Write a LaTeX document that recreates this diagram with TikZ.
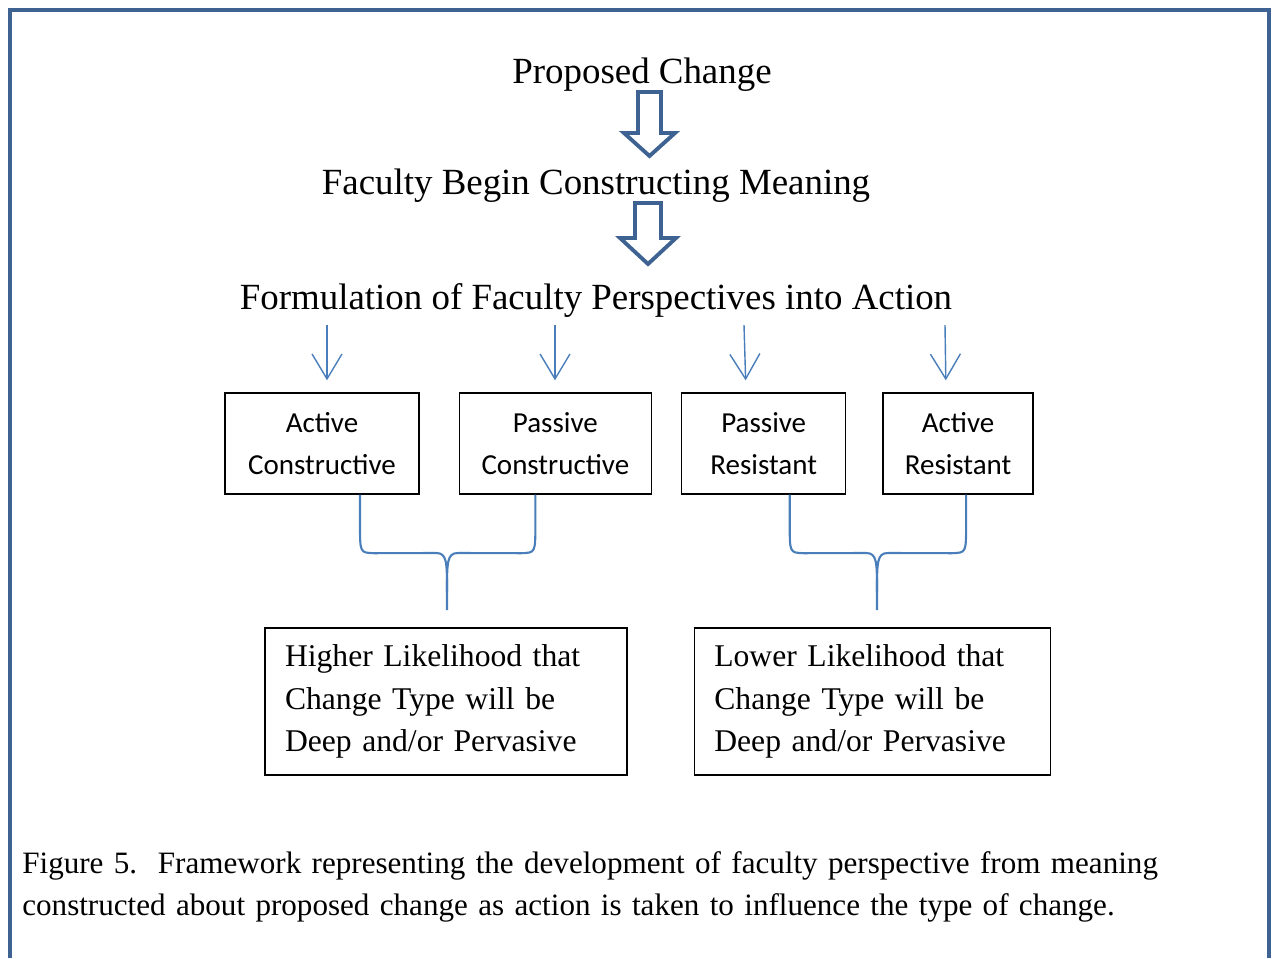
\documentclass[tikz,border=0pt]{standalone}
\usepackage{fontspec}
\setmainfont{Liberation Serif}
\newfontfamily\calibri{Carlito}
\usetikzlibrary{arrows.meta,positioning}

\definecolor{frameblue}{RGB}{62,98,146}
\definecolor{lineblue}{RGB}{74,126,187}

\begin{document}
\begin{tikzpicture}[x=0.02cm,y=-0.02cm,
                    heading/.style={font=\fontsize{21}{25}\selectfont, inner sep=0pt},
                    thin arrow/.style={->,>={Straight Barb[length=5mm,width=6mm]}, lineblue, line width=0.8pt},
                    brace/.style={lineblue, line width=1.2pt},
                    block/.style={draw=frameblue, line width=2.2pt, fill=white, line join=miter}]

  \useasboundingbox (0,0) rectangle (1274,958);
  \draw[frameblue, line width=2.4pt] (10,958) -- (10,10) -- (1269,10) -- (1269,958);

  \tikzstyle{choice} = [draw, line width=0.8pt, minimum height=2.02cm, align=center,
                        font=\calibri\fontsize{16.5}{23.8}\selectfont]
  \tikzstyle{outcome} = [draw, line width=0.8pt, minimum height=2.94cm, inner xsep=0.4cm,
                         align=left, font=\fontsize{18}{24}\selectfont]

  \node[heading] (P) at (642,75)  {Proposed Change};
  \node[heading] (M) at (596,186) {Faculty Begin Constructing Meaning};
  \node[heading] (F) at (596,300) {Formulation of Faculty Perspectives into Action};

  % block arrows between the headings
  \draw[block] (638,92) -- (661,92) -- (661,133) -- (675,133) -- (649.5,156)
               -- (624,133) -- (638,133) -- cycle;
  \draw[block] (635,203) -- (661,203) -- (661,238) -- (676,238) -- (648,264)
               -- (620,238) -- (635,238) -- cycle;

  \node[choice, minimum width=3.88cm] (AC) at (322,443.5) {Active\\Constructive};
  \node[choice, minimum width=3.84cm] (PC) [right=0.78cm of AC] {Passive\\Constructive};
  \node[choice, minimum width=3.28cm] (PR) [right=0.58cm of PC] {Passive\\Resistant};
  \node[choice, minimum width=3.0cm]  (AR) [right=0.72cm of PR] {Active\\Resistant};

  \coordinate (t1) at (327,325);
  \coordinate (t2) at (555,325);
  \coordinate (t3) at (744,325);
  \coordinate (t4) at (945,325);
  \draw[thin arrow, shorten >=12*0.02cm] (t1) -- (t1 |- AC.north);
  \draw[thin arrow, shorten >=12*0.02cm] (t2) -- (t2 |- PC.north);
  \draw[thin arrow, shorten >=12*0.02cm] (t3) -- ([xshift=2*0.02cm]t3 |- PR.north);
  \draw[thin arrow, shorten >=12*0.02cm] (t4) -- ([xshift=1*0.02cm]t4 |- AR.north);

  \node[outcome, text width=6.44cm] (HL) at (446,701.5)
       {Higher Likelihood that\\Change Type will be\\Deep and/or Pervasive};
  \node[outcome, text width=6.32cm] (LL) [right=1.32cm of HL]
       {Lower Likelihood that\\Change Type will be\\Deep and/or Pervasive};

  % braces joining the pairs
  \coordinate (hl) at (447,610);
  \coordinate (ll) at (877,610);
  \draw[brace] ([xshift=38*0.02cm]AC.south) -- ++(0,30) .. controls +(0,28) .. ++(14,28.5)
               -- (436,553) .. controls (447,553) and (447,562) .. (447,592) -- (hl);
  \draw[brace] ([xshift=-20*0.02cm]PC.south) -- ++(0,30) .. controls +(0,28) .. ++(-14,28.5)
               -- (458,553) .. controls (447,553) and (447,562) .. (447,592);
  \draw[brace] ([xshift=26*0.02cm]PR.south) -- ++(0,30) .. controls +(0,28) .. ++(14,28.5)
               -- (866,553) .. controls (877,553) and (877,562) .. (877,592) -- (ll);
  \draw[brace] ([xshift=8*0.02cm]AR.south) -- ++(0,30) .. controls +(0,28) .. ++(-14,28.5)
               -- (888,553) .. controls (877,553) and (877,562) .. (877,592);

  \node[anchor=north west, inner sep=0pt, text width=25cm, align=left,
        font=\fontsize{17.7}{23.8}\selectfont] (cap) at (22,851)
       {Figure 5.\ \ Framework representing the development of faculty perspective from meaning\\
        constructed about proposed change as action is taken to influence the type of change.};

\end{tikzpicture}
\end{document}
